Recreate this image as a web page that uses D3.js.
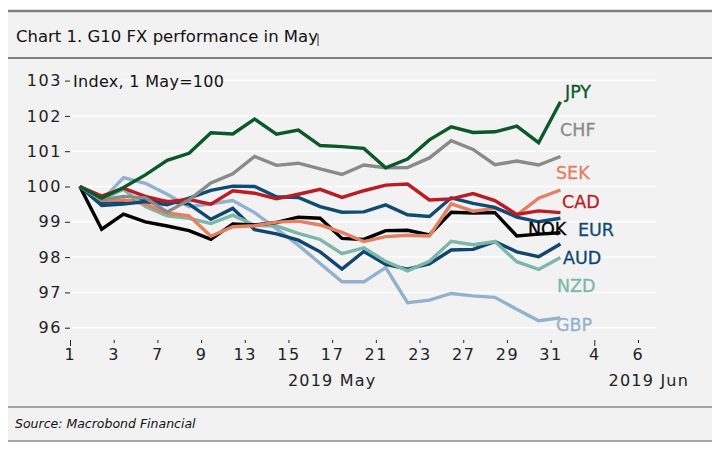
<!DOCTYPE html>
<html><head><meta charset="utf-8">
<script src="https://cdn.jsdelivr.net/npm/d3@7"></script>
<style>
html,body{margin:0;padding:0;background:#fff;}
svg text{font-family:"DejaVu Sans",sans-serif;}
</style></head>
<body><svg id="c" width="720" height="451"></svg>
<script>
const title = "Chart 1. G10 FX performance in May";
const subtitle = "Index, 1 May=100";
const source = "Source: Macrobond Financial";
const xTickLabels = ["1","3","7","9","13","15","17","21","23","27","29","31","4","6"];
const monthLabels = ["2019 May","2019 Jun"];
const yTicks = [96,97,98,99,100,101,102,103];
const dates = ["2019-05-01","2019-05-02","2019-05-03","2019-05-06","2019-05-07","2019-05-08","2019-05-09","2019-05-10","2019-05-13","2019-05-14","2019-05-15","2019-05-16","2019-05-17","2019-05-20","2019-05-21","2019-05-22","2019-05-23","2019-05-24","2019-05-27","2019-05-28","2019-05-29","2019-05-30","2019-05-31"];
const seriesNames = ["GBP","AUD","NZD","NOK","SEK","EUR","CAD","CHF","JPY"];
const GBP = [100,99.6,100.25,100.09,99.78,99.43,99.51,99.6,99.26,98.8,98.34,97.82,97.3,97.3,97.7,96.71,96.78,96.97,96.9,96.86,96.52,96.2,96.28];
const AUD = [100,99.55,99.58,99.6,99.58,99.5,99.07,99.38,98.78,98.66,98.48,98.15,97.66,98.16,97.79,97.66,97.81,98.2,98.22,98.44,98.15,98.01,98.37];
const NZD = [100,99.62,99.92,99.43,99.17,99.1,98.95,99.19,98.9,98.88,98.67,98.5,98.1,98.26,97.88,97.61,97.88,98.45,98.35,98.44,97.87,97.65,97.99];
const NOK = [100,98.79,99.22,99.0,98.88,98.75,98.5,98.94,98.91,98.98,99.13,99.1,98.53,98.5,98.75,98.76,98.63,99.27,99.25,99.26,98.6,98.65,98.69];
const SEK = [100,99.6,99.62,99.5,99.25,99.17,98.59,98.86,98.89,98.99,99.02,98.91,98.7,98.44,98.58,98.62,98.6,99.51,99.3,99.38,99.19,99.67,99.9];
const EUR = [100,99.46,99.5,99.57,99.48,99.67,99.89,100.01,100.0,99.71,99.69,99.43,99.27,99.28,99.48,99.2,99.15,99.68,99.52,99.41,99.13,99.0,99.1];
const CAD = [100,99.73,99.95,99.72,99.57,99.63,99.5,99.88,99.81,99.65,99.78,99.92,99.69,99.88,100.04,100.07,99.62,99.65,99.8,99.6,99.21,99.31,99.26];
const CHF = [100,99.62,99.72,99.68,99.28,99.62,100.1,100.36,100.85,100.6,100.66,100.5,100.34,100.61,100.53,100.54,100.81,101.3,101.05,100.62,100.72,100.61,100.85];
const JPY = [100,99.67,99.97,100.33,100.74,100.94,101.52,101.49,101.91,101.48,101.6,101.16,101.13,101.08,100.53,100.78,101.32,101.69,101.53,101.55,101.71,101.24,102.4];
const colors = {GBP:"#93b1cf",AUD:"#0e4670",NZD:"#7db7a9",NOK:"#000000",SEK:"#e47f5f",EUR:"#104b74",CAD:"#bd1b24",CHF:"#8a8a8a",JPY:"#0b5828"};
const labelPos = {JPY:[565,92],CHF:[560,130],SEK:[556,172.5],CAD:[562,201.5],NOK:[528,228.5],EUR:[578,229.5],AUD:[563,257.5],NZD:[557,286],GBP:[556,325]};
const dataMap = {GBP,AUD,NZD,NOK,SEK,EUR,CAD,CHF,JPY};

const svg = d3.select("#c");
svg.append("rect").attr("x",8).attr("y",10).attr("width",704).attr("height",431).attr("fill","#f2f2f2");
svg.append("line").attr("x1",8).attr("x2",712).attr("y1",11).attr("y2",11).attr("stroke","#7f7f7f").attr("stroke-width",2.5);
svg.append("line").attr("x1",8).attr("x2",712).attr("y1",58).attr("y2",58).attr("stroke","#7f7f7f").attr("stroke-width",2);
svg.append("text").attr("x",16).attr("y",42).attr("font-size",16.5).attr("fill","#111").text(title);
svg.append("line").attr("x1",318).attr("x2",318).attr("y1",34).attr("y2",46).attr("stroke","#333").attr("stroke-width",1);

const x = d3.scaleLinear().domain([0,26]).range([70,638]);
const y = d3.scaleLinear().domain([96,103]).range([327.7,80.6]);

// gridlines
svg.append("g").selectAll("line").data(yTicks).join("line")
  .attr("x1",72).attr("x2",656).attr("y1",d=>y(d)).attr("y2",d=>y(d))
  .attr("stroke","#ffffff").attr("stroke-width",1.5);

// y axis
const yAxis = d3.axisLeft(y).tickValues(yTicks).tickSize(5).tickPadding(3).tickFormat(d3.format("d"));
const gy = svg.append("g").attr("transform","translate(70,0)").call(yAxis);
gy.select(".domain").remove();
gy.selectAll(".tick line").attr("stroke","#222");
gy.selectAll(".tick text").attr("font-size",16).attr("fill","#222").attr("letter-spacing","1.6px").attr("font-family","DejaVu Sans");

svg.append("text").attr("x",73).attr("y",87).attr("font-size",16).attr("fill","#111").attr("letter-spacing","0.3px").text(subtitle);

// x axis
const xTickVals = xTickLabels.map((d,i)=>i*2);
const xAxis = d3.axisBottom(x).tickValues(xTickVals).tickSize(3).tickPadding(6).tickFormat((d,i)=>xTickLabels[i]);
const gx = svg.append("g").attr("transform","translate(0,340)").call(xAxis);
gx.select(".domain").remove();
gx.selectAll(".tick line").attr("stroke","#222").attr("y2",(d,i)=>(i===0||i===12)?6:3);
gx.selectAll(".tick text").attr("font-size",16).attr("fill","#222").attr("letter-spacing","1.6px").attr("font-family","DejaVu Sans");

svg.append("text").attr("x",x(12)).attr("y",386).attr("text-anchor","middle").attr("font-size",16).attr("fill","#222").attr("letter-spacing","1.2px").text(monthLabels[0]);
svg.append("text").attr("x",689).attr("y",386).attr("text-anchor","end").attr("font-size",16).attr("fill","#222").attr("letter-spacing","1.2px").text(monthLabels[1]);

// lines
const line = d3.line().x((d,i)=>x(i+0.45)).y(d=>y(d));
svg.append("g").selectAll("path").data(seriesNames).join("path")
  .attr("d",n=>line(dataMap[n])).attr("fill","none").attr("stroke",n=>colors[n])
  .attr("stroke-width",3.4).attr("stroke-linejoin","miter");

// labels
svg.append("g").selectAll("text").data(seriesNames).join("text")
  .attr("x",n=>labelPos[n][0]).attr("y",n=>labelPos[n][1]).attr("dy","0.36em")
  .attr("font-size",17.5).attr("fill",n=>colors[n]).attr("stroke",n=>colors[n]).attr("stroke-width",0.3).text(n=>n);

// source
svg.append("line").attr("x1",8).attr("x2",712).attr("y1",407).attr("y2",407).attr("stroke","#8a8a8a").attr("stroke-width",1.5);
svg.append("line").attr("x1",8).attr("x2",712).attr("y1",441).attr("y2",441).attr("stroke","#8a8a8a").attr("stroke-width",1.5);
svg.append("text").attr("x",15).attr("y",428).attr("font-size",12.5).attr("font-style","italic").attr("fill","#111").text(source);
</script></body></html>
